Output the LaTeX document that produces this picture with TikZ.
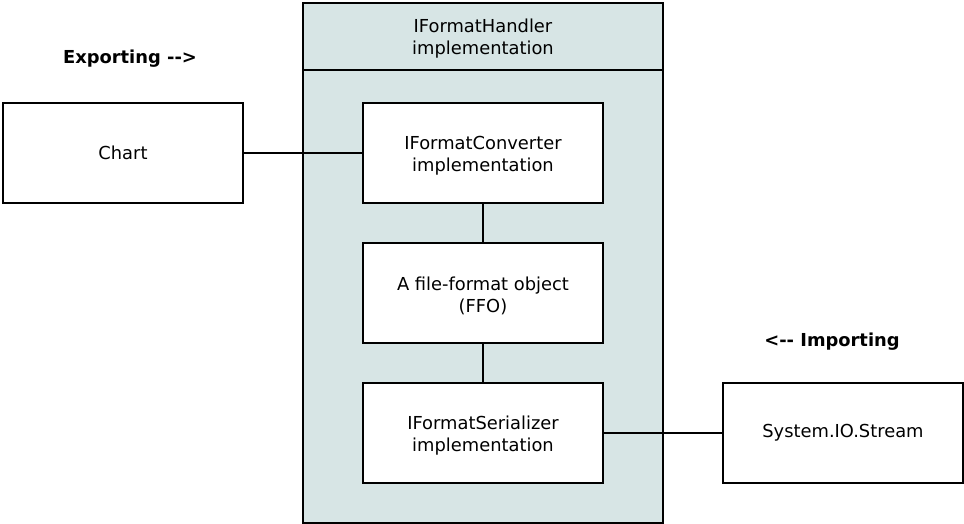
\documentclass[tikz,border=0pt]{standalone}
\usepackage{fontspec}
\setmainfont{DejaVu Sans}
\definecolor{handlerfill}{HTML}{D7E5E5}
\begin{document}
\begin{tikzpicture}[x=0.75pt,y=-0.75pt,
  every node/.style={font=\fontsize{13.4pt}{16.5pt}\selectfont},
  box/.style={draw=black,line width=1.5pt,fill=white,rectangle,minimum width=180pt,minimum height=75pt,inner sep=0pt,align=center},
  boxtext/.style={align=center,inner sep=0pt,yshift=-2pt},
  conn/.style={draw=black,line width=1.5pt},
  lbl/.style={font=\fontsize{13.4pt}{16.5pt}\selectfont\bfseries,yshift=-1.5pt}]
\useasboundingbox (0,0) rectangle (964,524);
\node[draw=black,line width=1.5pt,fill=handlerfill,rectangle,minimum width=270pt,minimum height=390pt,inner sep=0pt] (handler) at (483,263) {};
\coordinate (hl) at (303,70);
\coordinate (hr) at (663,70);
\draw[conn] (hl) -- (hr);
\node[boxtext] (htitle) at (483,36) {IFormatHandler\\implementation};
\node[box] (chart) at (123,153) {Chart};
\node[box] (conv) at (483,153) {};
\node[boxtext] (convtext) at (conv.center) {IFormatConverter\\implementation};
\node[box] (ffo) at (483,293) {};
\node[boxtext] (ffotext) at (ffo.center) {A file-format object\\(FFO)};
\node[box] (ser) at (483,433) {};
\node[boxtext] (sertext) at (ser.center) {IFormatSerializer\\implementation};
\node[box] (stream) at (843,433) {System.IO.Stream};
\node[lbl] (exp) at (130,57) {Exporting -{}-{}>};
\node[lbl] (imp) at (832,340) {<-{}- Importing};
\draw[conn] (chart) -- (conv);
\draw[conn] (conv) -- (ffo);
\draw[conn] (ffo) -- (ser);
\draw[conn] (ser) -- (stream);
\end{tikzpicture}
\end{document}
